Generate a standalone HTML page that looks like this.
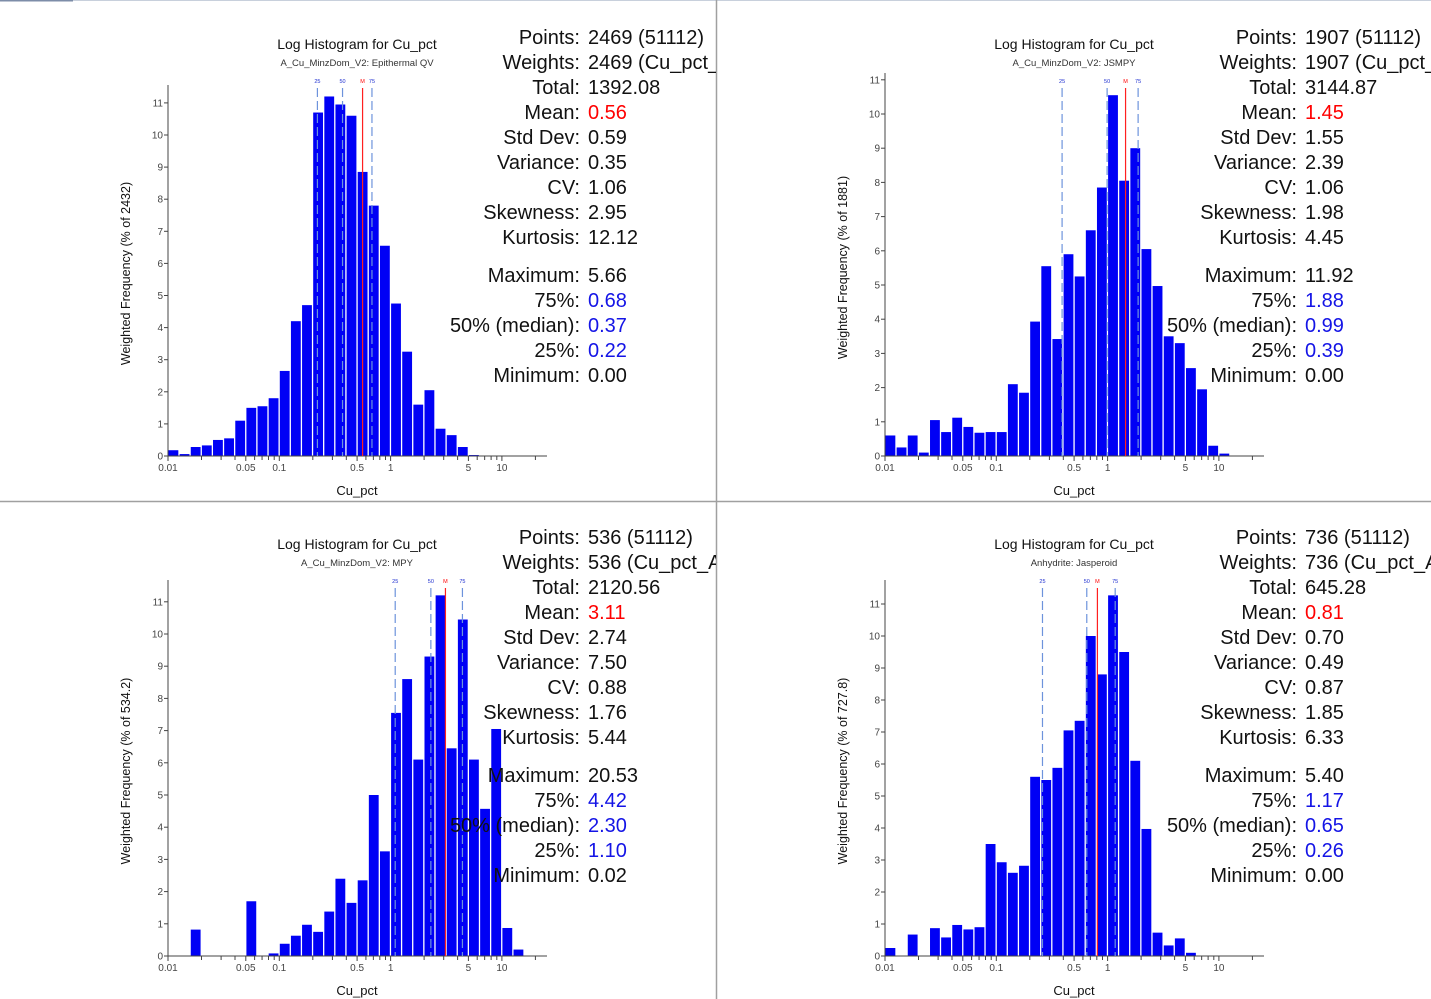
<!DOCTYPE html>
<html><head><meta charset="utf-8"><style>
html,body{margin:0;padding:0;background:#fff;width:1431px;height:999px;overflow:hidden}
svg{display:block;font-family:"Liberation Sans",sans-serif}
</style></head><body>
<svg id="chart" width="1431" height="999" viewBox="0 0 1431 999" xmlns="http://www.w3.org/2000/svg">
<rect x="0" y="0" width="1431" height="999" fill="#fff"/>
<line x1="0" y1="0.5" x2="1431" y2="0.5" stroke="#c8d0dc" stroke-width="1"/>
<line x1="0" y1="0.5" x2="73" y2="0.5" stroke="#7d8da8" stroke-width="2"/>
<line x1="716.5" y1="0" x2="716.5" y2="999" stroke="#a0a0a0" stroke-width="1.5"/>
<line x1="0" y1="501.5" x2="1431" y2="501.5" stroke="#a0a0a0" stroke-width="1.5"/>
<g id="panels"></g>
</svg>
<script>
// ---- data (bin heights, 10 bins per decade starting at 0.01) ----
const binsEpithermal = [0.18,0.06,0.28,0.33,0.5,0.55,1.1,1.5,1.55,1.8,2.65,4.2,4.7,10.7,11.2,10.95,10.6,8.85,7.8,6.55,4.75,3.25,1.6,2.05,0.85,0.65,0.28,0.03];
const binsJSMPY = [0.6,0.25,0.6,0.1,1.05,0.7,1.12,0.85,0.68,0.7,0.7,2.1,1.85,3.93,5.55,3.42,5.9,5.25,6.6,7.85,10.55,8.05,9.0,6.05,4.97,3.5,3.3,2.57,1.95,0.3,0.07];
const binsMPY = [0,0,0.82,0,0,0,0,1.7,0,0.08,0.38,0.63,0.97,0.75,1.38,2.4,1.65,2.35,5.0,3.25,7.55,8.6,6.1,9.3,11.2,6.45,10.45,6.1,4.57,7.05,0.87,0.2];
const binsJasperoid = [0.25,0,0.67,0,0.87,0.58,0.97,0.83,0.9,3.5,2.93,2.6,2.82,5.6,5.5,5.88,7.05,7.35,10.0,8.8,11.27,9.5,6.1,3.97,0.73,0.33,0.55,0.1];
const quantEpithermal = [0.22,0.37,0.56,0.68];
const quantJSMPY = [0.39,0.99,1.45,1.88];
const quantMPY = [1.10,2.30,3.11,4.42];
const quantJasperoid = [0.26,0.65,0.81,1.17];
const subtitles = ["A_Cu_MinzDom_V2: Epithermal QV","A_Cu_MinzDom_V2: JSMPY","A_Cu_MinzDom_V2: MPY","Anhydrite: Jasperoid"];
const yTitles = ["Weighted Frequency (% of 2432)","Weighted Frequency (% of 1881)","Weighted Frequency (% of 534.2)","Weighted Frequency (% of 727.8)"];
const statLabels = ["Points:","Weights:","Total:","Mean:","Std Dev:","Variance:","CV:","Skewness:","Kurtosis:","Maximum:","75%:","50% (median):","25%:","Minimum:"];
const statsEpithermal = ["2469 (51112)","2469 (Cu_pct_A","1392.08","0.56","0.59","0.35","1.06","2.95","12.12","5.66","0.68","0.37","0.22","0.00"];
const statsJSMPY = ["1907 (51112)","1907 (Cu_pct_A","3144.87","1.45","1.55","2.39","1.06","1.98","4.45","11.92","1.88","0.99","0.39","0.00"];
const statsMPY = ["536 (51112)","536 (Cu_pct_A","2120.56","3.11","2.74","7.50","0.88","1.76","5.44","20.53","4.42","2.30","1.10","0.02"];
const statsJasperoid = ["736 (51112)","736 (Cu_pct_A","645.28","0.81","0.70","0.49","0.87","1.85","6.33","5.40","1.17","0.65","0.26","0.00"];
const xTickVals = [0.01,0.05,0.1,0.5,1,5,10];
const xTickLabels = ["0.01","0.05","0.1","0.5","1","5","10"];
const yTickVals = [0,1,2,3,4,5,6,7,8,9,10,11];

const NS="http://www.w3.org/2000/svg";
function mk(tag,attrs,parent){const e=document.createElementNS(NS,tag);for(const k in attrs)e.setAttribute(k,attrs[k]);parent.appendChild(e);return e;}

const panelDefs=[
 {ox:0,oy:0,bins:binsEpithermal,q:quantEpithermal,stats:statsEpithermal,unit:32.1,axTop:85,name:"epithermal"},
 {ox:717,oy:0,bins:binsJSMPY,q:quantJSMPY,stats:statsJSMPY,unit:34.2,axTop:73,name:"jsmpy"},
 {ox:0,oy:500,bins:binsMPY,q:quantMPY,stats:statsMPY,unit:32.2,axTop:80,name:"mpy"},
 {ox:717,oy:500,bins:binsJasperoid,q:quantJasperoid,stats:statsJasperoid,unit:32.0,axTop:80,name:"jasperoid"}
];
const root=document.getElementById('panels');
panelDefs.forEach((p,i)=>{
 const clipId='clip'+i;
 const cp=mk('clipPath',{id:clipId},root);
 mk('rect',{x:0,y:0,width:716,height:500},cp);
 const g=mk('g',{transform:`translate(${p.ox},${p.oy})`,'clip-path':`url(#${clipId})`},root);
 
 
 const x0=168, dec=111.3, y0=456;
 const xs=v=>x0+(Math.log10(v)+2)*dec;
 const ys=v=>y0-v*p.unit;
 const t=mk('text',{x:357,y:49,'text-anchor':'middle','font-size':14,fill:'#111'},g);t.textContent='Log Histogram for Cu_pct';
 
 
 const st=mk('text',{x:357,y:66,'text-anchor':'middle','font-size':9.5,fill:'#333'},g);st.textContent=subtitles[i];
 
 
 p.bins.forEach((v,k)=>{
  if(v<=0) return;
  const xa=x0+k*dec/10, h=v*p.unit;
  const r=mk('rect',{x:xa+0.5,y:ys(v),width:dec/10-1.3,height:h,fill:'#0000f5'},g);
  
  
 });
 const ya=mk('line',{x1:x0,y1:p.axTop,x2:x0,y2:y0,stroke:'#444','stroke-width':1},g);
 
 
 const xa=mk('line',{x1:x0,y1:y0,x2:547,y2:y0,stroke:'#444','stroke-width':1},g);
 
 
 yTickVals.forEach(v=>{
  const y=ys(v); if(y<p.axTop-2) return;
  mk('line',{x1:x0-4,y1:y,x2:x0,y2:y,stroke:'#444'},g);
  const tl=mk('text',{x:x0-5,y:y+3.5,'text-anchor':'end','font-size':10,fill:'#444'},g);tl.textContent=v;
  
  
 });
 for(let d=-2;d<=1;d++){for(let m=1;m<=9;m++){const v=m*Math.pow(10,d);const x=xs(v);if(x>547)break;
  mk('line',{x1:x,y1:y0,x2:x,y2:y0+(m===1||m===5?5:4),stroke:'#444'},g);}}
 xTickVals.forEach((v,k)=>{
  const tl=mk('text',{x:xs(v),y:y0+15,'text-anchor':'middle','font-size':10,fill:'#444'},g);tl.textContent=xTickLabels[k];
  
  
 });
 const xt=mk('text',{x:357,y:495,'text-anchor':'middle','font-size':13,fill:'#111'},g);xt.textContent='Cu_pct';
 
 
 const yt=mk('text',{x:0,y:0,transform:`translate(130,${(p.axTop+y0)/2+3}) rotate(-90)`,'text-anchor':'middle','font-size':12.5,fill:'#111'},g);yt.textContent=yTitles[i];
 
 
 const qlab=['25','50','M','75'];
 p.q.forEach((v,k)=>{
  const x=xs(v), red=k===2;
  const ln=mk('line',{x1:x,y1:88,x2:x,y2:y0,stroke:red?'#ff2020':'#6d93dc','stroke-width':1.2,'stroke-dasharray':red?'none':'9,4'},g);
  
  
  const lt=mk('text',{x:x,y:83,'text-anchor':'middle','font-size':5.5,fill:red?'#ff0000':'#2030d0'},g);lt.textContent=qlab[k];
  
  
 });
 statLabels.forEach((lab,k)=>{
  const y=(k<9?44+k*25:282+(k-9)*25);
  const tl=mk('text',{x:580,y:y,'text-anchor':'end','font-size':20,fill:'#111'},g);tl.textContent=lab;
  
  
  const col=k===3?'#ff0000':(k>=10&&k<=12?'#1414e6':'#111');
  const tv=mk('text',{x:588,y:y,'font-size':20,fill:col},g);tv.textContent=p.stats[k];
  
  
 });
});
</script>
</body></html>
